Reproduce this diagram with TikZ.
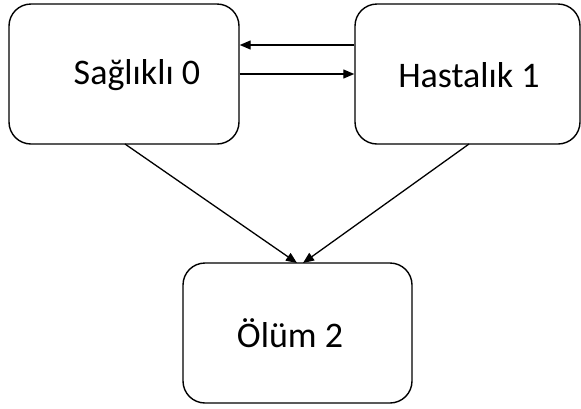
\documentclass[tikz,border=0pt]{standalone}
\usepackage{fontspec}
\setmainfont{Carlito}
\usetikzlibrary{arrows.meta}
\begin{document}
\begin{tikzpicture}[x=1pt,y=1pt,
  statebox/.style={draw, line width=1.4pt, rounded corners=22pt, inner sep=0pt},
  lbl/.style={font=\fontsize{36}{40}\selectfont, inner sep=0pt},
  conn/.style={line width=1.3pt, -{Triangle[length=11pt,width=9pt]}}]
\useasboundingbox (0,0) rectangle (581,-408);
\node[statebox, minimum width=230pt, minimum height=140pt] (s) at (124,-74) {};
\node[statebox, minimum width=225pt, minimum height=140pt] (h) at (467.5,-74) {};
\node[statebox, minimum width=229pt, minimum height=140pt] (o) at (297.5,-333) {};
\node[lbl] (st) at (137,-75) {Sağlıklı 0};
\node[lbl] (ht) at (469,-75) {Hastalık 1};
\node[lbl] (ot) at (290,-333) {Ölüm 2};
\draw[conn] (h.west |- 0,-45) -- (s.east |- 0,-45);
\draw[conn] (s.east |- 0,-74) -- (h.west |- 0,-74);
\coordinate (d1) at (125,-144);
\coordinate (d2) at (469,-144);
\coordinate (t1) at (297,-263);
\coordinate (t2) at (303,-263);
\draw[conn] (d1) -- (t1);
\draw[conn] (d2) -- (t2);
\end{tikzpicture}
\end{document}
